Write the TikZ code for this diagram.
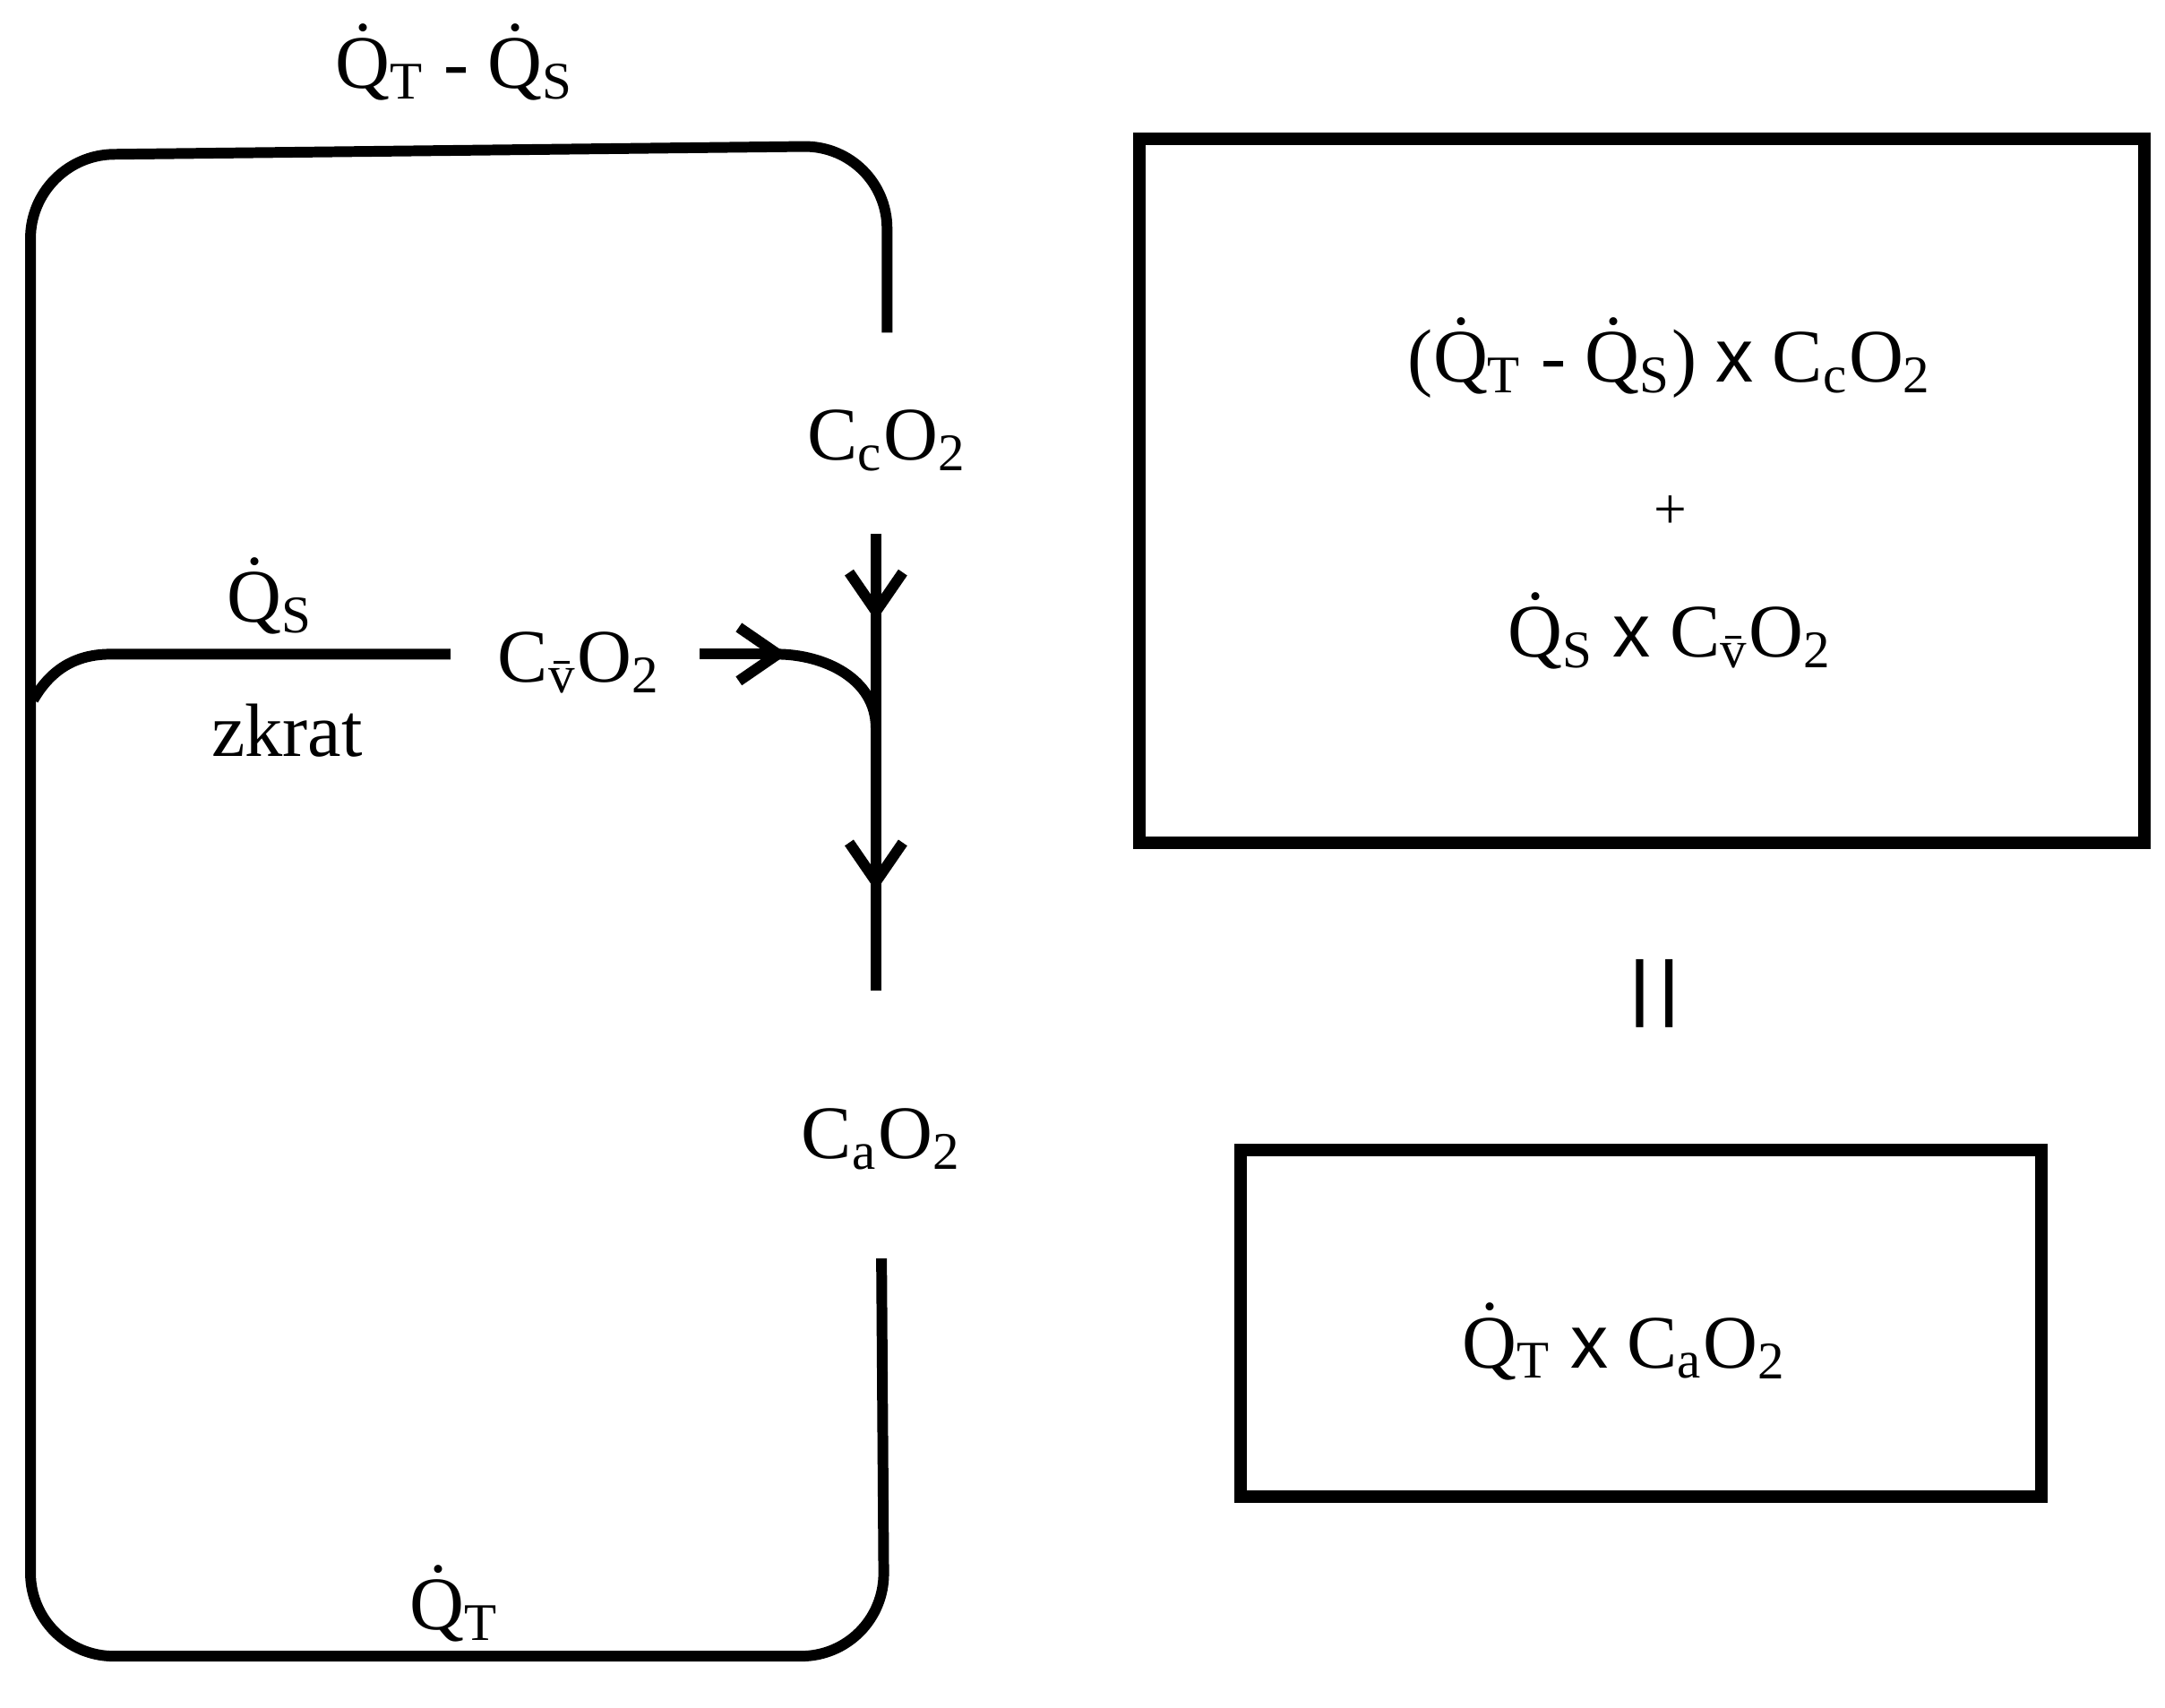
\documentclass[tikz,border=0pt]{standalone}
\usepackage{fontspec}
\setmainfont{Liberation Serif}
\newfontfamily\xsans{Liberation Sans}
\usetikzlibrary{positioning}
\usetikzlibrary{arrows.meta}
\newcommand{\Qd}[1]{\.{Q}\textsubscript{#1}}
\newcommand{\cx}{{\xsans x}}
\begin{document}
\begin{tikzpicture}[x=0.01cm,y=-0.01cm,
  lbl/.style={font=\fontsize{15.5}{18}\selectfont, inner sep=1pt},
  pipe/.style={line width=2.2pt, rounded corners=0.6cm},
  tip/.style={-{Straight Barb[length=8pt,width=11pt,line width=2.2pt]}},
  box/.style={draw, line width=2.6pt}]
\useasboundingbox (0,0) rectangle (1562,1232);

% loop
\coordinate (cc_end) at (640,240);
\coordinate (ca_end) at (636,908);
\coordinate (shunt_end) at (325,472);
\coordinate (mix_in) at (505,472);
\coordinate (art_top) at (632,385);
\coordinate (art_end) at (632,715);

\draw [pipe] (cc_end) -- (640,105) -- (22,112) -- (22,1195) -- (638,1195) -- (ca_end);
\draw [line width=2.2pt] (24,505) to[out=60,in=180] (80,472) -- (shunt_end);
\draw [line width=2.2pt, tip] (mix_in) -- (568,472);
\draw [line width=2.2pt] (560,472) to[out=0,in=90] (632,525);
\draw [line width=2.2pt, tip] (art_top) -- (632,448);
\draw [line width=2.2pt] (632,440) -- (632,640);
\draw [line width=2.2pt, tip] (632,590) -- (632,643);
\draw [line width=2.2pt] (632,635) -- (art_end);

% labels
\node (qtqs) [lbl] at (328,45) {\Qd{T} - \Qd{S}};
\node (cc) [lbl] at (640,318) {C\textsubscript{c}O\textsubscript{2}};
\node (qs) [lbl] at (195,430) {\Qd{S}};
\node (cv) [lbl] at (418,478) {C\textsubscript{\=v}O\textsubscript{2}};
\node (zkrat) [lbl] at (207,527) {zkrat};
\node (ca) [lbl] at (636,822) {C\textsubscript{a}O\textsubscript{2}};
\node (qt) [lbl] at (328,1157) {\Qd{T}};

% balance
\draw [box] (822,100) rectangle (1547,608);
\node (mixed) [lbl] at (1205,258) {(\Qd{T} - \Qd{S}) \cx\ C\textsubscript{c}O\textsubscript{2}};
\node (plus) [lbl] at (1205,370) {\fontsize{12}{14}\selectfont +};
\node (shunted) [lbl] at (1205,455) {\Qd{S} \cx\ C\textsubscript{\=v}O\textsubscript{2}};
\node (eq) [lbl, rotate=90] at (1205,717) {\fontsize{30}{30}\selectfont =};
\draw [box] (895,830) rectangle (1473,1080);
\node (total) [lbl] at (1172,968) {\Qd{T} \cx\ C\textsubscript{a}O\textsubscript{2}};
\end{tikzpicture}
\end{document}
